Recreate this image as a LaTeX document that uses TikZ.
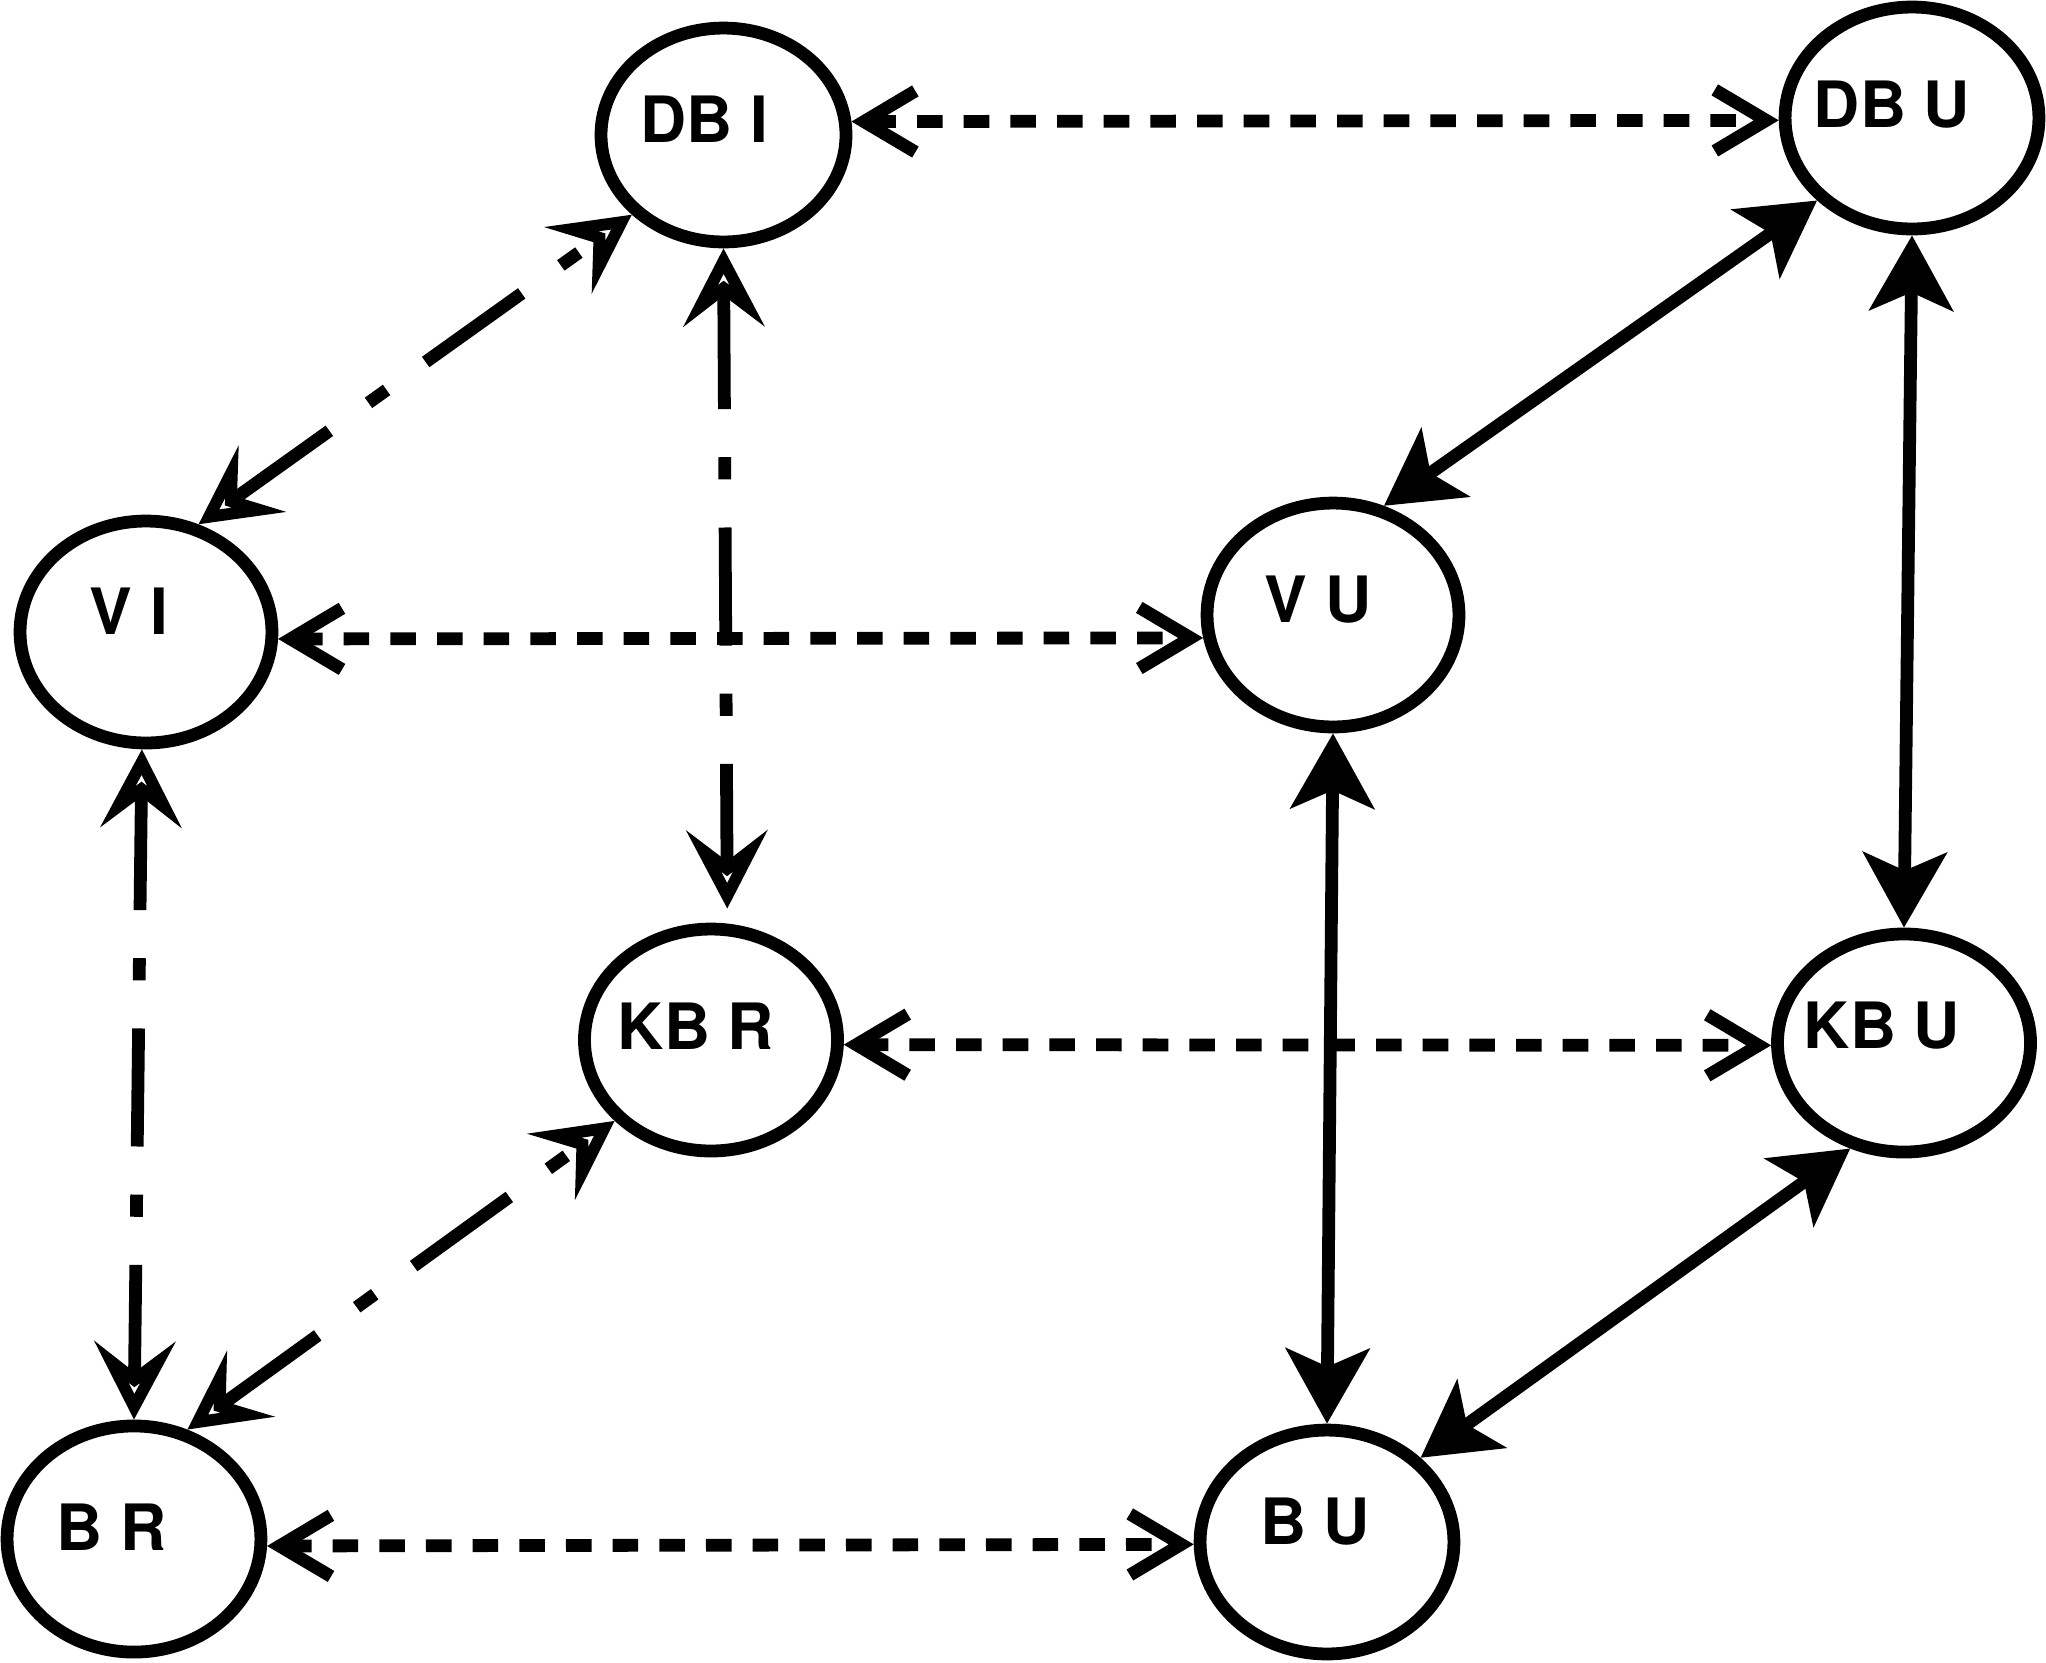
\documentclass[tikz,border=0pt]{standalone}
\usepackage{fontspec}
\setmainfont{TeX Gyre Heros}
\usetikzlibrary{shapes.geometric,arrows.meta,calc}
\tikzset{
  ell/.style={draw, line width=4.6pt, ellipse, inner sep=0pt, fill=white},
  lbl/.style={font=\bfseries\fontsize{23pt}{27pt}\selectfont, inner sep=0pt, anchor=center},
  dashedge/.style={line width=4.6pt, dash pattern=on 9.2pt off 7.6pt,
    arrows={Straight Barb[sharp,length=18.5pt,width=22pt]-Straight Barb[sharp,length=18.5pt,width=22pt]}},
  dotedge/.style={line width=4.6pt, dash pattern=on 42.5pt off 17.3pt on 8pt off 17.3pt,
    arrows={Stealth[open,sharp,length=28pt,width=29pt,inset=11pt]-Stealth[open,sharp,length=28pt,width=29pt,inset=11pt]}},
  solidedge/.style={line width=4.6pt,
    arrows={Stealth[sharp,length=27pt,width=30pt,inset=6.5pt]-Stealth[sharp,length=27pt,width=30pt,inset=6.5pt]}},
}
\begin{document}
\begin{tikzpicture}[x=0.36pt,y=-0.36pt]
\useasboundingbox (0,0) rectangle (2046,1662);
% nodes
\node[ell, minimum width=88.2pt, minimum height=77.0pt] (dbi) at (723.5,135) {};
\node[ell, minimum width=91.4pt, minimum height=79.9pt] (dbu) at (1912,118) {};
\node[ell, minimum width=90.7pt, minimum height=79.9pt] (vi)  at (146,632) {};
\node[ell, minimum width=90.7pt, minimum height=80.6pt] (vu)  at (1333,615) {};
\node[ell, minimum width=91.1pt, minimum height=79.9pt] (kbr) at (711,1040) {};
\node[ell, minimum width=91.1pt, minimum height=78.5pt] (kbu) at (1904,1043) {};
\node[ell, minimum width=91.4pt, minimum height=81.4pt] (br)  at (134,1539) {};
\node[ell, minimum width=91.4pt, minimum height=80.6pt] (bu)  at (1327,1542) {};
% labels
\node[lbl] (dbiT) at (704,119) {DB I};
\node[lbl] (dbuT) at (1892,105) {DB U};
\node[lbl] (viT)  at (129,611) {V I};
\node[lbl] (vuT)  at (1318,600) {V U};
\node[lbl] (kbrT) at (696,1026) {KB R};
\node[lbl] (kbuT) at (1882,1026) {KB U};
\node[lbl] (brT)  at (112,1527) {B R};
\node[lbl] (buT)  at (1315,1522) {B U};
% dashed connectors
\draw[dashedge] (dbi.6) -- (dbu.181);
\draw[dashedge] (vi.-3) -- (vu.190);
\draw[dashedge] (kbr.-2) -- (kbu.181);
\draw[dashedge] (br.-3) -- (bu.181);
% dash-dot connectors
\draw[dotedge] (vi.64) -- (dbi.221);
\draw[dotedge, shorten >=5.4pt] (dbi.south) -- (kbr.82);
\draw[dotedge] (vi.268) -- (br.north);
\draw[dotedge] (br.64) -- (kbr.220);
% solid connectors
\draw[solidedge] (dbu.221) -- (vu.65);
\draw[solidedge] (dbu.south) -- (kbu.north);
\draw[solidedge] (vu.south) -- (bu.north);
\draw[solidedge] (kbu.243) -- (bu.42);
\end{tikzpicture}
\end{document}
